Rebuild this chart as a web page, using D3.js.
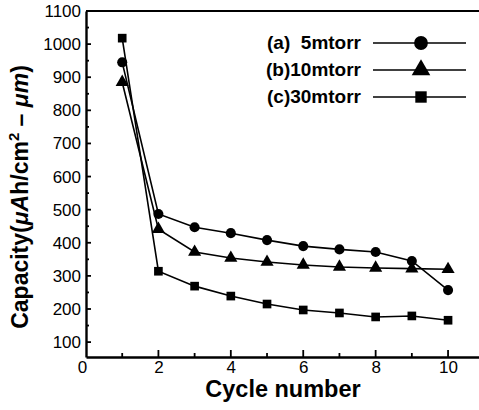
<!DOCTYPE html>
<html><head><meta charset="utf-8">
<script src="https://cdn.jsdelivr.net/npm/d3@7"></script>
<style>body{margin:0;background:#fff}svg{display:block}</style>
</head><body>
<script>
const cycles = [1,2,3,4,5,6,7,8,9,10];
const seriesA = [945,487,447,429,408,390,380,372,345,257];
const seriesB = [885,441,372,354,342,333,327,324,322,320];
const seriesC = [1018,314,269,239,215,197,188,176,179,166];
const seriesNames = ["(a)  5mtorr","(b)10mtorr","(c)30mtorr"];
const seriesShapes = ["circle","triangle","square"];
const yTicks = [100,200,300,400,500,600,700,800,900,1000,1100];
const xTicks = [0,2,4,6,8,10];

const W=479,H=410;
const svg=d3.select("body").append("svg").attr("width",W).attr("height",H);
const x=d3.scaleLinear().domain([0,10.91]).range([86,481]);
const y=d3.scaleLinear().domain([55,1100]).range([357,11]);
const font="Arial, 'Liberation Sans', Helvetica, sans-serif";

svg.append("line").attr("x1",86).attr("x2",W).attr("y1",y(1100)).attr("y2",y(1100)).attr("stroke","#000").attr("stroke-width",2);

const yAxis=d3.axisLeft(y).tickValues(yTicks).tickFormat(d3.format("d")).tickSize(0).tickPadding(5);
const gy=svg.append("g").attr("transform","translate(86,0)").call(yAxis);
gy.select(".domain").attr("stroke-width",2.4);
gy.selectAll("text").attr("font-family",font).attr("font-size",17).attr("fill","#000");
const yMinor=d3.range(100,1100,50);
svg.append("g").selectAll("line").data(yMinor).join("line")
 .attr("x1",86).attr("x2",d=>d%100===0?91:89).attr("y1",d=>y(d)).attr("y2",d=>y(d)).attr("stroke","#000").attr("stroke-width",1.8);

const xAxis=d3.axisBottom(x).tickValues(xTicks).tickFormat(d3.format("d")).tickSize(0).tickPadding(4);
const gx=svg.append("g").attr("transform","translate(0,357)").call(xAxis);
gx.select(".domain").attr("stroke-width",2.4);
gx.selectAll("text").attr("font-family",font).attr("font-size",17).attr("fill","#000");
gx.selectAll(".tick").filter(d=>d===0).select("text").attr("dx",-4);
svg.append("g").selectAll("line").data(d3.range(1,11)).join("line")
 .attr("x1",d=>x(d)).attr("x2",d=>x(d)).attr("y1",357).attr("y2",d=>d%2===0?350:353).attr("stroke","#000").attr("stroke-width",1.8);

svg.append("text").attr("x",283).attr("y",397).attr("text-anchor","middle")
 .attr("font-family",font).attr("font-size",23.5).attr("font-weight","bold").text("Cycle number");
const yt=svg.append("text").attr("transform",`translate(28,197) rotate(-90)`).attr("text-anchor","middle")
 .attr("font-family",font).attr("font-size",23).attr("font-weight","bold");
yt.append("tspan").text("Capacity(");
yt.append("tspan").attr("font-style","italic").text("μA");
yt.append("tspan").text("h/cm");
yt.append("tspan").attr("font-size",15).attr("dy",-9).text("2");
yt.append("tspan").attr("dy",9).text(" – ");
yt.append("tspan").attr("font-style","italic").text("μm");
yt.append("tspan").text(")");

const symbolFor={circle:d3.symbol(d3.symbolCircle,80),triangle:d3.symbol(d3.symbolTriangle,75),square:d3.symbol(d3.symbolSquare,75)};
const allSeries=[seriesA,seriesB,seriesC];
const line=d3.line().x((d,i)=>x(cycles[i])).y(d=>y(d));
allSeries.forEach((s,k)=>{
  svg.append("path").datum(s).attr("d",line).attr("fill","none").attr("stroke","#000").attr("stroke-width",1.6);
  svg.append("g").selectAll("path").data(s).join("path")
   .attr("d",symbolFor[seriesShapes[k]]).attr("fill","#000")
   .attr("transform",(d,i)=>`translate(${x(cycles[i])},${y(d)})`);
});

const legY=[43,70,97];
const sz={circle:d3.symbol(d3.symbolCircle,150),triangle:d3.symbol(d3.symbolTriangle,150),square:d3.symbol(d3.symbolSquare,130)};
seriesNames.forEach((n,k)=>{
  svg.append("text").attr("x",361).attr("y",legY[k]+6).attr("text-anchor","end")
   .style("white-space","pre")
   .attr("font-family",font).attr("font-size",19).attr("font-weight","bold").text(n);
  svg.append("line").attr("x1",373).attr("x2",466).attr("y1",legY[k]).attr("y2",legY[k]).attr("stroke","#000").attr("stroke-width",1.5);
  svg.append("path").attr("d",sz[seriesShapes[k]]).attr("fill","#000").attr("transform",`translate(421,${legY[k]})`);
});
</script>
</body></html>
